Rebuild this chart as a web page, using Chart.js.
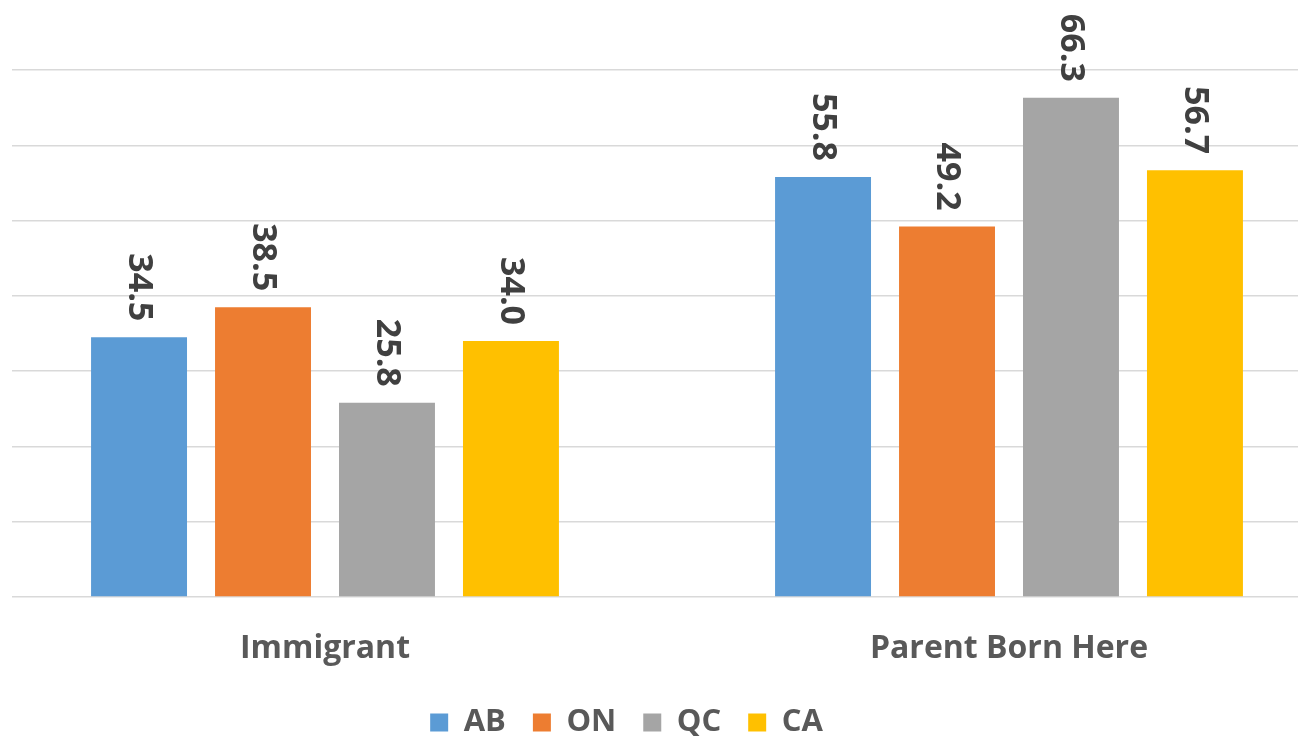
<!DOCTYPE html>
<html>
<head>
<meta charset="utf-8">
<script src="https://cdn.jsdelivr.net/npm/chart.js@4/dist/chart.umd.min.js"></script>
<style>
  html, body { margin: 0; padding: 0; background: #fff; overflow: hidden; }
  #clip { position: absolute; left: 12px; top: 0; width: 1286px; height: 738px; overflow: hidden; }
  #holder { position: absolute; left: -110px; top: 0; width: 1449px; height: 748px; }
</style>
</head>
<body>
<div id="clip"><div id="holder"><canvas id="chart"></canvas></div></div>
<script>
// données du graphique
const categories = ['Immigrant', 'Parent Born Here'];
const seriesNames = ['AB', 'ON', 'QC', 'CA'];
const valuesAB = [34.5, 55.8];
const valuesON = [38.5, 49.2];
const valuesQC = [25.8, 66.3];
const valuesCA = [34.0, 56.7];
const yTicks = [0, 10, 20, 30, 40, 50, 60, 70];

const colors = ['#5b9bd5', '#ed7d31', '#a5a5a5', '#ffc000'];
const allValues = [valuesAB, valuesON, valuesQC, valuesCA];
const fontFamily = '"Open Sans", "DejaVu Sans", sans-serif';

// étiquettes verticales au-dessus des barres
const barLabels = {
  id: 'barLabels',
  afterDatasetsDraw(chart) {
    const ctx = chart.ctx;
    ctx.save();
    ctx.fillStyle = '#404040';
    ctx.font = 'bold 34px ' + fontFamily;
    chart.data.datasets.forEach((ds, i) => {
      const meta = chart.getDatasetMeta(i);
      meta.data.forEach((bar, j) => {
        ctx.save();
        ctx.translate(bar.x, bar.y - 16);
        ctx.rotate(Math.PI / 2);
        ctx.textAlign = 'right';
        ctx.textBaseline = 'middle';
        ctx.fillText(ds.data[j].toFixed(1), 0, 0);
        ctx.restore();
      });
    });
    ctx.restore();
  }
};

const datasets = seriesNames.map((name, i) => ({
  label: name,
  data: allValues[i],
  backgroundColor: colors[i],
  borderWidth: 0,
  categoryPercentage: 0.725,
  barPercentage: 0.774
}));

new Chart(document.getElementById('chart'), {
  type: 'bar',
  data: { labels: categories, datasets: datasets },
  options: {
    responsive: true,
    maintainAspectRatio: false,
    devicePixelRatio: 1,
    animation: false,
    layout: { padding: { top: 70, left: 0, right: 0, bottom: 0 } },
    plugins: {
      legend: {
        position: 'bottom',
        labels: {
          boxWidth: 18,
          boxHeight: 18,
          padding: 27,
          color: '#595959',
          font: { family: fontFamily, size: 31, weight: 'bold' }
        }
      },
      tooltip: { enabled: false }
    },
    scales: {
      x: {
        grid: { display: false },
        border: { display: false },
        ticks: {
          color: '#595959',
          padding: 25,
          font: { family: fontFamily, size: 32, weight: 'bold' }
        },
        afterFit(scale) { scale.height = 83; }
      },
      y: {
        min: 0,
        max: 70,
        afterBuildTicks(scale) { scale.ticks = yTicks.map(v => ({ value: v })); },
        ticks: { display: false },
        border: { display: false },
        grid: { color: '#d9d9d9', lineWidth: 1.5, drawTicks: false },
        afterFit(scale) { scale.width = 81; }
      }
    }
  },
  plugins: [barLabels]
});
</script>
</body>
</html>
